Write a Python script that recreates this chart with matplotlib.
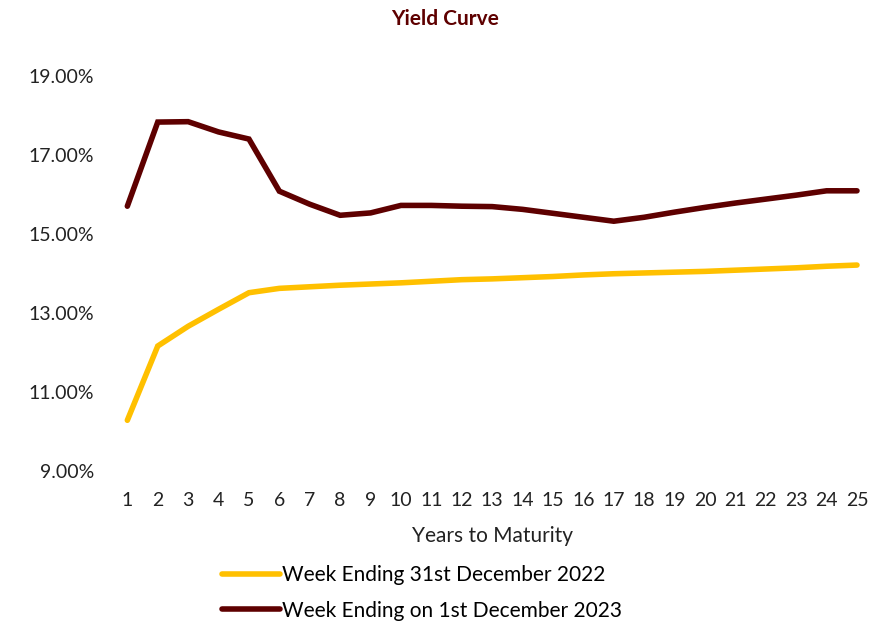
import matplotlib
matplotlib.use("Agg")
import matplotlib.pyplot as plt
from matplotlib.ticker import FuncFormatter

years = list(range(1, 26))
yield_2022 = [10.29, 12.17, 12.67, 13.10, 13.52, 13.63, 13.67, 13.71, 13.74, 13.77,
              13.81, 13.85, 13.87, 13.90, 13.93, 13.97, 14.00, 14.02, 14.04, 14.06,
              14.09, 14.12, 14.15, 14.19, 14.22]
yield_2023 = [15.71, 17.84, 17.85, 17.59, 17.41, 16.09, 15.76, 15.48, 15.54, 15.73,
              15.73, 15.71, 15.70, 15.63, 15.53, 15.43, 15.33, 15.43, 15.56, 15.68,
              15.79, 15.89, 15.99, 16.10, 16.10]
labels = ["Week Ending 31st December 2022", "Week Ending on 1st December 2023"]
y_ticks = [9, 11, 13, 15, 17, 19]

plt.rcParams["font.family"] = ["Lato", "DejaVu Sans"]

fig = plt.figure(figsize=(8.9, 6.25), dpi=100)
ax = fig.add_axes([0.126, 0.246, 0.854, 0.632])

ax.plot(years, yield_2022, color="#FFC000", linewidth=4, solid_capstyle="round",
        solid_joinstyle="miter", label=labels[0])
ax.plot(years, yield_2023, color="#5E0000", linewidth=4, solid_capstyle="round",
        solid_joinstyle="miter", label=labels[1])

ax.set_xlim(0.5, 25.5)
ax.set_ylim(9, 19)
ax.set_xticks(years)
ax.set_yticks(y_ticks)
ax.yaxis.set_major_formatter(FuncFormatter(lambda v, p: f"{v:.2f}%"))
ax.tick_params(axis="both", length=0, labelsize=14, colors="#222222")
ax.tick_params(axis="x", pad=15)
ax.tick_params(axis="y", pad=13)
for s in ax.spines.values():
    s.set_visible(False)

ax.set_xlabel("Years to Maturity", fontsize=15, color="#222222", labelpad=12)
fig.text(0.5, 0.97, "Yield Curve", ha="center", va="center", fontsize=15,
         fontweight="bold", color="#5E0000")

fig.legend(loc="upper left", bbox_to_anchor=(0.249, 0.096), ncol=1, frameon=False,
           fontsize=15, handlelength=2.8, handletextpad=0.1, labelspacing=0.75,
           borderpad=0, borderaxespad=0)

fig.savefig("out.png", dpi=100)
